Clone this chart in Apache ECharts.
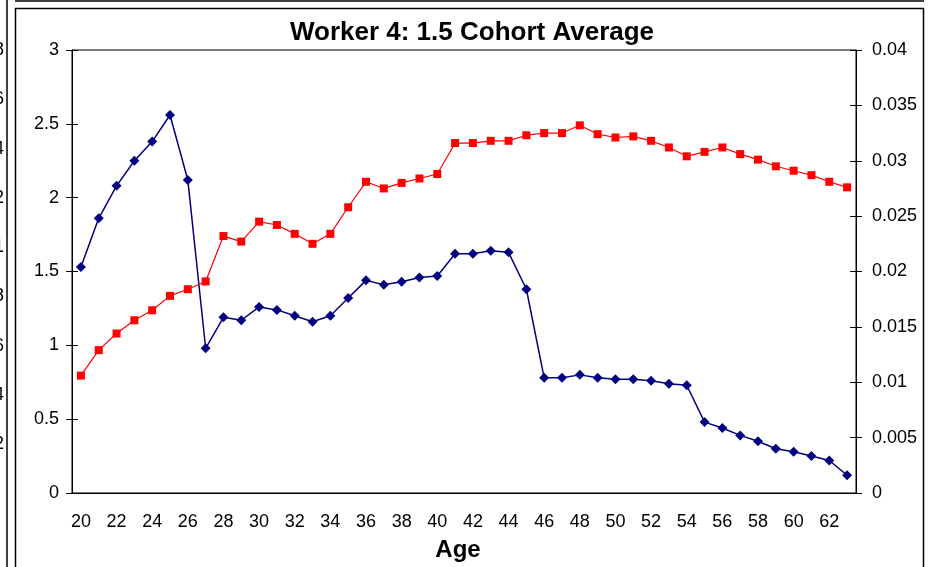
<!DOCTYPE html>
<html>
<head>
<meta charset="utf-8">
<title>Worker 4: 1.5 Cohort Average</title>
<script src="https://cdn.jsdelivr.net/npm/echarts@6/dist/echarts.min.js"></script>
<style>
  html, body { margin: 0; padding: 0; background: #fff; }
  #chart { width: 930px; height: 567px; }
</style>
</head>
<body>
<div id="chart"></div>
<script>
// ages on the x axis
const ages = []
for (let a = 20; a <= 63; a++) ages.push(String(a))

// blue diamonds, left axis
const blueValues = [
  1.53, 1.86, 2.08, 2.25, 2.38, 2.56, 2.12, 0.98, 1.19, 1.17,
  1.26, 1.24, 1.20, 1.16, 1.20, 1.32, 1.44, 1.41, 1.43, 1.46,
  1.47, 1.62, 1.62, 1.64, 1.63, 1.38, 0.78, 0.78, 0.80, 0.78,
  0.77, 0.77, 0.76, 0.74, 0.73, 0.48, 0.44, 0.39, 0.35, 0.30,
  0.28, 0.25, 0.22, 0.12,
]

// red squares, right axis
const redValues = [
  0.0106, 0.0129, 0.0144, 0.0156, 0.0165, 0.0178, 0.0184, 0.0191, 0.0232, 0.0227,
  0.0245, 0.0242, 0.0234, 0.0225, 0.0234, 0.0258, 0.0281, 0.0275, 0.0280, 0.0284,
  0.0288, 0.0316, 0.0316, 0.0318, 0.0318, 0.0323, 0.0325, 0.0325, 0.0332, 0.0324,
  0.0321, 0.0322, 0.0318, 0.0312, 0.0304, 0.0308, 0.0312, 0.0306, 0.0301, 0.0295,
  0.0291, 0.0287, 0.0281, 0.0276,
]

// cut-off tick labels of the neighbouring chart at the left edge
const edgeLabels = ['1.8', '1.6', '1.4', '1.2', '1', '0.8', '0.6', '0.4', '0.2']

const font = "'Liberation Sans', Arial, sans-serif"
const tickLen = 6

const chart = echarts.init(document.getElementById('chart'))

// 轴刻度：主轴朝外，辅助轴朝内，拼成十字刻度
const leftAxis = (inside) => ({
  type: 'value',
  position: 'left',
  min: 0, max: 3, interval: 0.5,
  axisLine: { show: !inside, lineStyle: { color: '#000', width: 1 } },
  axisTick: { show: true, inside: inside, length: tickLen, lineStyle: { color: '#000' } },
  axisLabel: { show: !inside, color: '#000', fontSize: 18, fontFamily: font, margin: 13 },
  splitLine: { show: false },
})

const rightAxis = (inside) => ({
  type: 'value',
  position: 'right',
  min: 0, max: 0.04, interval: 0.005,
  axisLine: { show: !inside, lineStyle: { color: '#000', width: 1 } },
  axisTick: { show: true, inside: inside, length: tickLen, lineStyle: { color: '#000' } },
  axisLabel: { show: !inside, color: '#000', fontSize: 18, fontFamily: font, margin: 16 },
  splitLine: { show: false },
})

const option = {
  animation: false,
  backgroundColor: '#fff',
  title: {
    text: 'Worker 4: 1.5 Cohort Average',
    left: 472,
    textAlign: 'center',
    top: 20,
    padding: 0,
    textStyle: { color: '#000', fontSize: 26, fontWeight: 'bold', fontFamily: font },
  },
  grid: {
    left: 72, right: 74, top: 50, bottom: 73,
    show: true,
    borderColor: '#000',
    borderWidth: 1,
  },
  xAxis: [
    {
      type: 'category',
      data: ages,
      boundaryGap: true,
      name: 'Age',
      nameLocation: 'middle',
      nameGap: 45,
      nameTextStyle: { color: '#000', fontSize: 24, fontWeight: 'bold', fontFamily: font, padding: [0, 12, 0, 0] },
      axisLine: { lineStyle: { color: '#000', width: 1 } },
      axisTick: { interval: 0, length: tickLen, lineStyle: { color: '#000' } },
      axisLabel: { interval: 1, color: '#000', fontSize: 18, fontFamily: font, margin: 20 },
    },
    {
      type: 'category',
      data: ages,
      boundaryGap: true,
      position: 'bottom',
      axisLine: { show: false },
      axisTick: { interval: 0, inside: true, length: tickLen, lineStyle: { color: '#000' } },
      axisLabel: { show: false },
    },
  ],
  yAxis: [leftAxis(false), rightAxis(false), leftAxis(true), rightAxis(true)],
  series: [
    {
      name: 'left',
      type: 'line',
      yAxisIndex: 0,
      data: blueValues,
      symbol: 'diamond',
      symbolSize: 10,
      lineStyle: { color: '#000080', width: 1.5 },
      itemStyle: { color: '#000080' },
    },
    {
      name: 'right',
      type: 'line',
      yAxisIndex: 1,
      data: redValues,
      symbol: 'rect',
      symbolSize: 8,
      lineStyle: { color: '#ff0000', width: 1.2 },
      itemStyle: { color: '#ff0000' },
    },
  ],
  graphic: [
    // chart frame and neighbouring frames
    { type: 'rect', shape: { x: 15.5, y: 8.5, width: 908, height: 570 }, style: { fill: null, stroke: '#000', lineWidth: 1.5 } },
    { type: 'line', shape: { x1: 7, y1: 0, x2: 7, y2: 567 }, style: { stroke: '#000', lineWidth: 1.5 } },
    { type: 'line', shape: { x1: 15, y1: 1, x2: 924, y2: 1 }, style: { stroke: '#000', lineWidth: 1.5 } },
  ].concat(edgeLabels.map((t, i) => ({
    type: 'text',
    x: 4,
    y: 50 + i * 49.3,
    style: { text: t, fill: '#000', font: '18px ' + font, align: 'right', verticalAlign: 'middle' },
  }))),
}

chart.setOption(option)
</script>
</body>
</html>
